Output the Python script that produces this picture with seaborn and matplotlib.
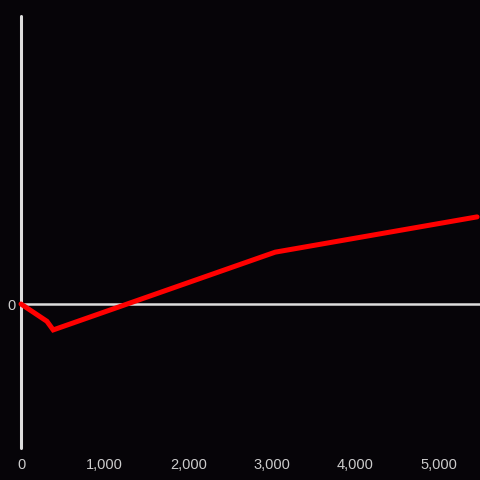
import matplotlib
matplotlib.use("Agg")
import matplotlib.pyplot as plt
import matplotlib.ticker as mticker
import seaborn as sns
import pandas as pd

x_values = [0, 310, 385, 3040, 5455]
y_values = [0, -12, -18, 36, 60.5]
x_ticks = [0, 1000, 2000, 3000, 4000, 5000]
y_ticks = [0]

bg = "#060408"
sns.set_theme(style="dark")
plt.rcParams['font.family'] = ['Liberation Sans', 'DejaVu Sans']

fig = plt.figure(figsize=(4.8, 4.8), dpi=100, facecolor=bg)
ax = fig.add_axes([21/480, 1 - 448/480, 459/480, 432/480])
ax.set_facecolor(bg)

df = pd.DataFrame({"x": x_values, "y": y_values})
ax.axhline(0, color="#dddddd", lw=1.8, zorder=1)
ax.axvline(0, color="#dddddd", lw=2.2, zorder=1, clip_on=False)
sns.lineplot(data=df, x="x", y="y", ax=ax, color="#ff0000", lw=3.6, zorder=3,
             solid_joinstyle="miter", clip_on=False)

ax.set_xlim(0, 5490)
ax.set_ylim(-100, 200)
ax.set_xticks(x_ticks)
ax.set_yticks(y_ticks)
ax.xaxis.set_major_formatter(mticker.FuncFormatter(lambda v, p: f"{int(v):,}"))
ax.tick_params(axis="both", length=0, colors="#cccccc", labelsize=10.5)
ax.tick_params(axis="x", pad=7)
ax.tick_params(axis="y", pad=4)
ax.grid(False)
ax.set_xlabel("")
ax.set_ylabel("")
for s in ax.spines.values():
    s.set_visible(False)

fig.savefig("out.png", dpi=100, facecolor=bg)
